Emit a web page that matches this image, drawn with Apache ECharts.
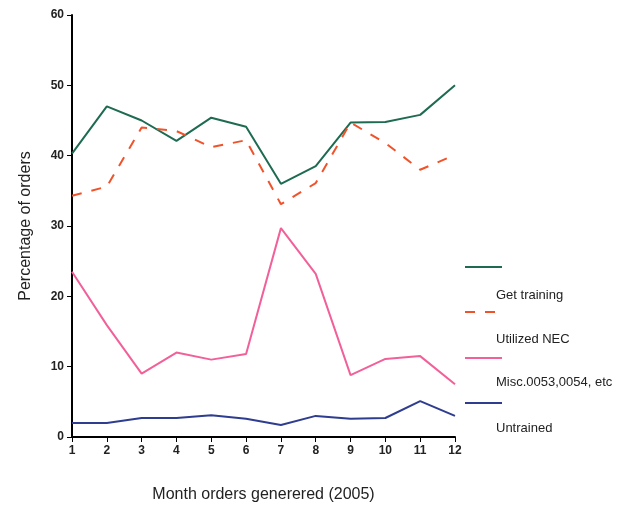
<!DOCTYPE html>
<html><head><meta charset="utf-8">
<script src="https://cdn.jsdelivr.net/npm/echarts@6/dist/echarts.min.js"></script>
<style>html,body{margin:0;background:#fff}#c{width:633px;height:514px}</style>
</head><body><div id="c"></div>
<script>
var months = ['1','2','3','4','5','6','7','8','9','10','11','12'];
var getTraining = [40.3,47,45,42.1,45.4,44.1,36,38.5,44.7,44.8,45.8,50];
var utilizedNEC = [34.3,35.6,44,43.5,41.2,42.2,33.1,36.1,44.7,41.8,38,40.1];
var misc = [23.5,15.9,9,12,11,11.8,29.7,23.2,8.8,11.1,11.5,7.5];
var untrained = [2,2,2.7,2.7,3.1,2.6,1.7,3,2.6,2.7,5.1,3];
var names = ['Get training','Utilized NEC','Misc.0053,0054, etc','Untrained'];
var colors = ['#1e6b52','#f0522a','#f2609a','#2e3d8f'];
var dashes = ['solid',[10,10],'solid','solid'];
var all = [getTraining, utilizedNEC, misc, untrained];

var chart = echarts.init(document.getElementById('c'));
var legend = [];
var lineY = [267,312,358,403], textY = [297,341,384,430];
names.forEach(function(n,i){
  legend.push({type:'line',shape:{x1:465,y1:lineY[i],x2:502,y2:lineY[i]},style:{stroke:colors[i],lineWidth:2,lineDash:dashes[i]==='solid'?null:dashes[i]}});
  legend.push({type:'text',left:496,top:textY[i]-8,style:{text:n,font:'13px Arial',fill:'#222'}});
});
chart.setOption({
  animation:false,
  grid:{left:72,right:178,top:15,bottom:77},
  xAxis:{type:'category',data:months,boundaryGap:false,
    name:'Month orders generered (2005)',nameLocation:'middle',nameGap:50,
    nameTextStyle:{fontSize:16,color:'#222',fontFamily:'Arial'},
    axisLine:{lineStyle:{color:'#000',width:2}},axisTick:{show:true,alignWithLabel:true,lineStyle:{color:'#000'}},
    axisLabel:{color:'#222',fontSize:12,fontWeight:'bold'}},
  yAxis:{type:'value',min:0,max:60,interval:10,
    name:'Percentage of orders',nameLocation:'middle',nameGap:38,
    nameTextStyle:{fontSize:16,color:'#222',fontFamily:'Arial'},
    axisLine:{show:true,lineStyle:{color:'#000',width:2}},axisTick:{show:true,lineStyle:{color:'#000'}},
    splitLine:{show:false},axisLabel:{color:'#222',fontSize:12,fontWeight:'bold'}},
  series: all.map(function(d,i){
    return {name:names[i],type:'line',data:d,symbol:'none',
      lineStyle:{color:colors[i],width:2,type:dashes[i]}};
  }),
  graphic: legend
});
</script></body></html>
